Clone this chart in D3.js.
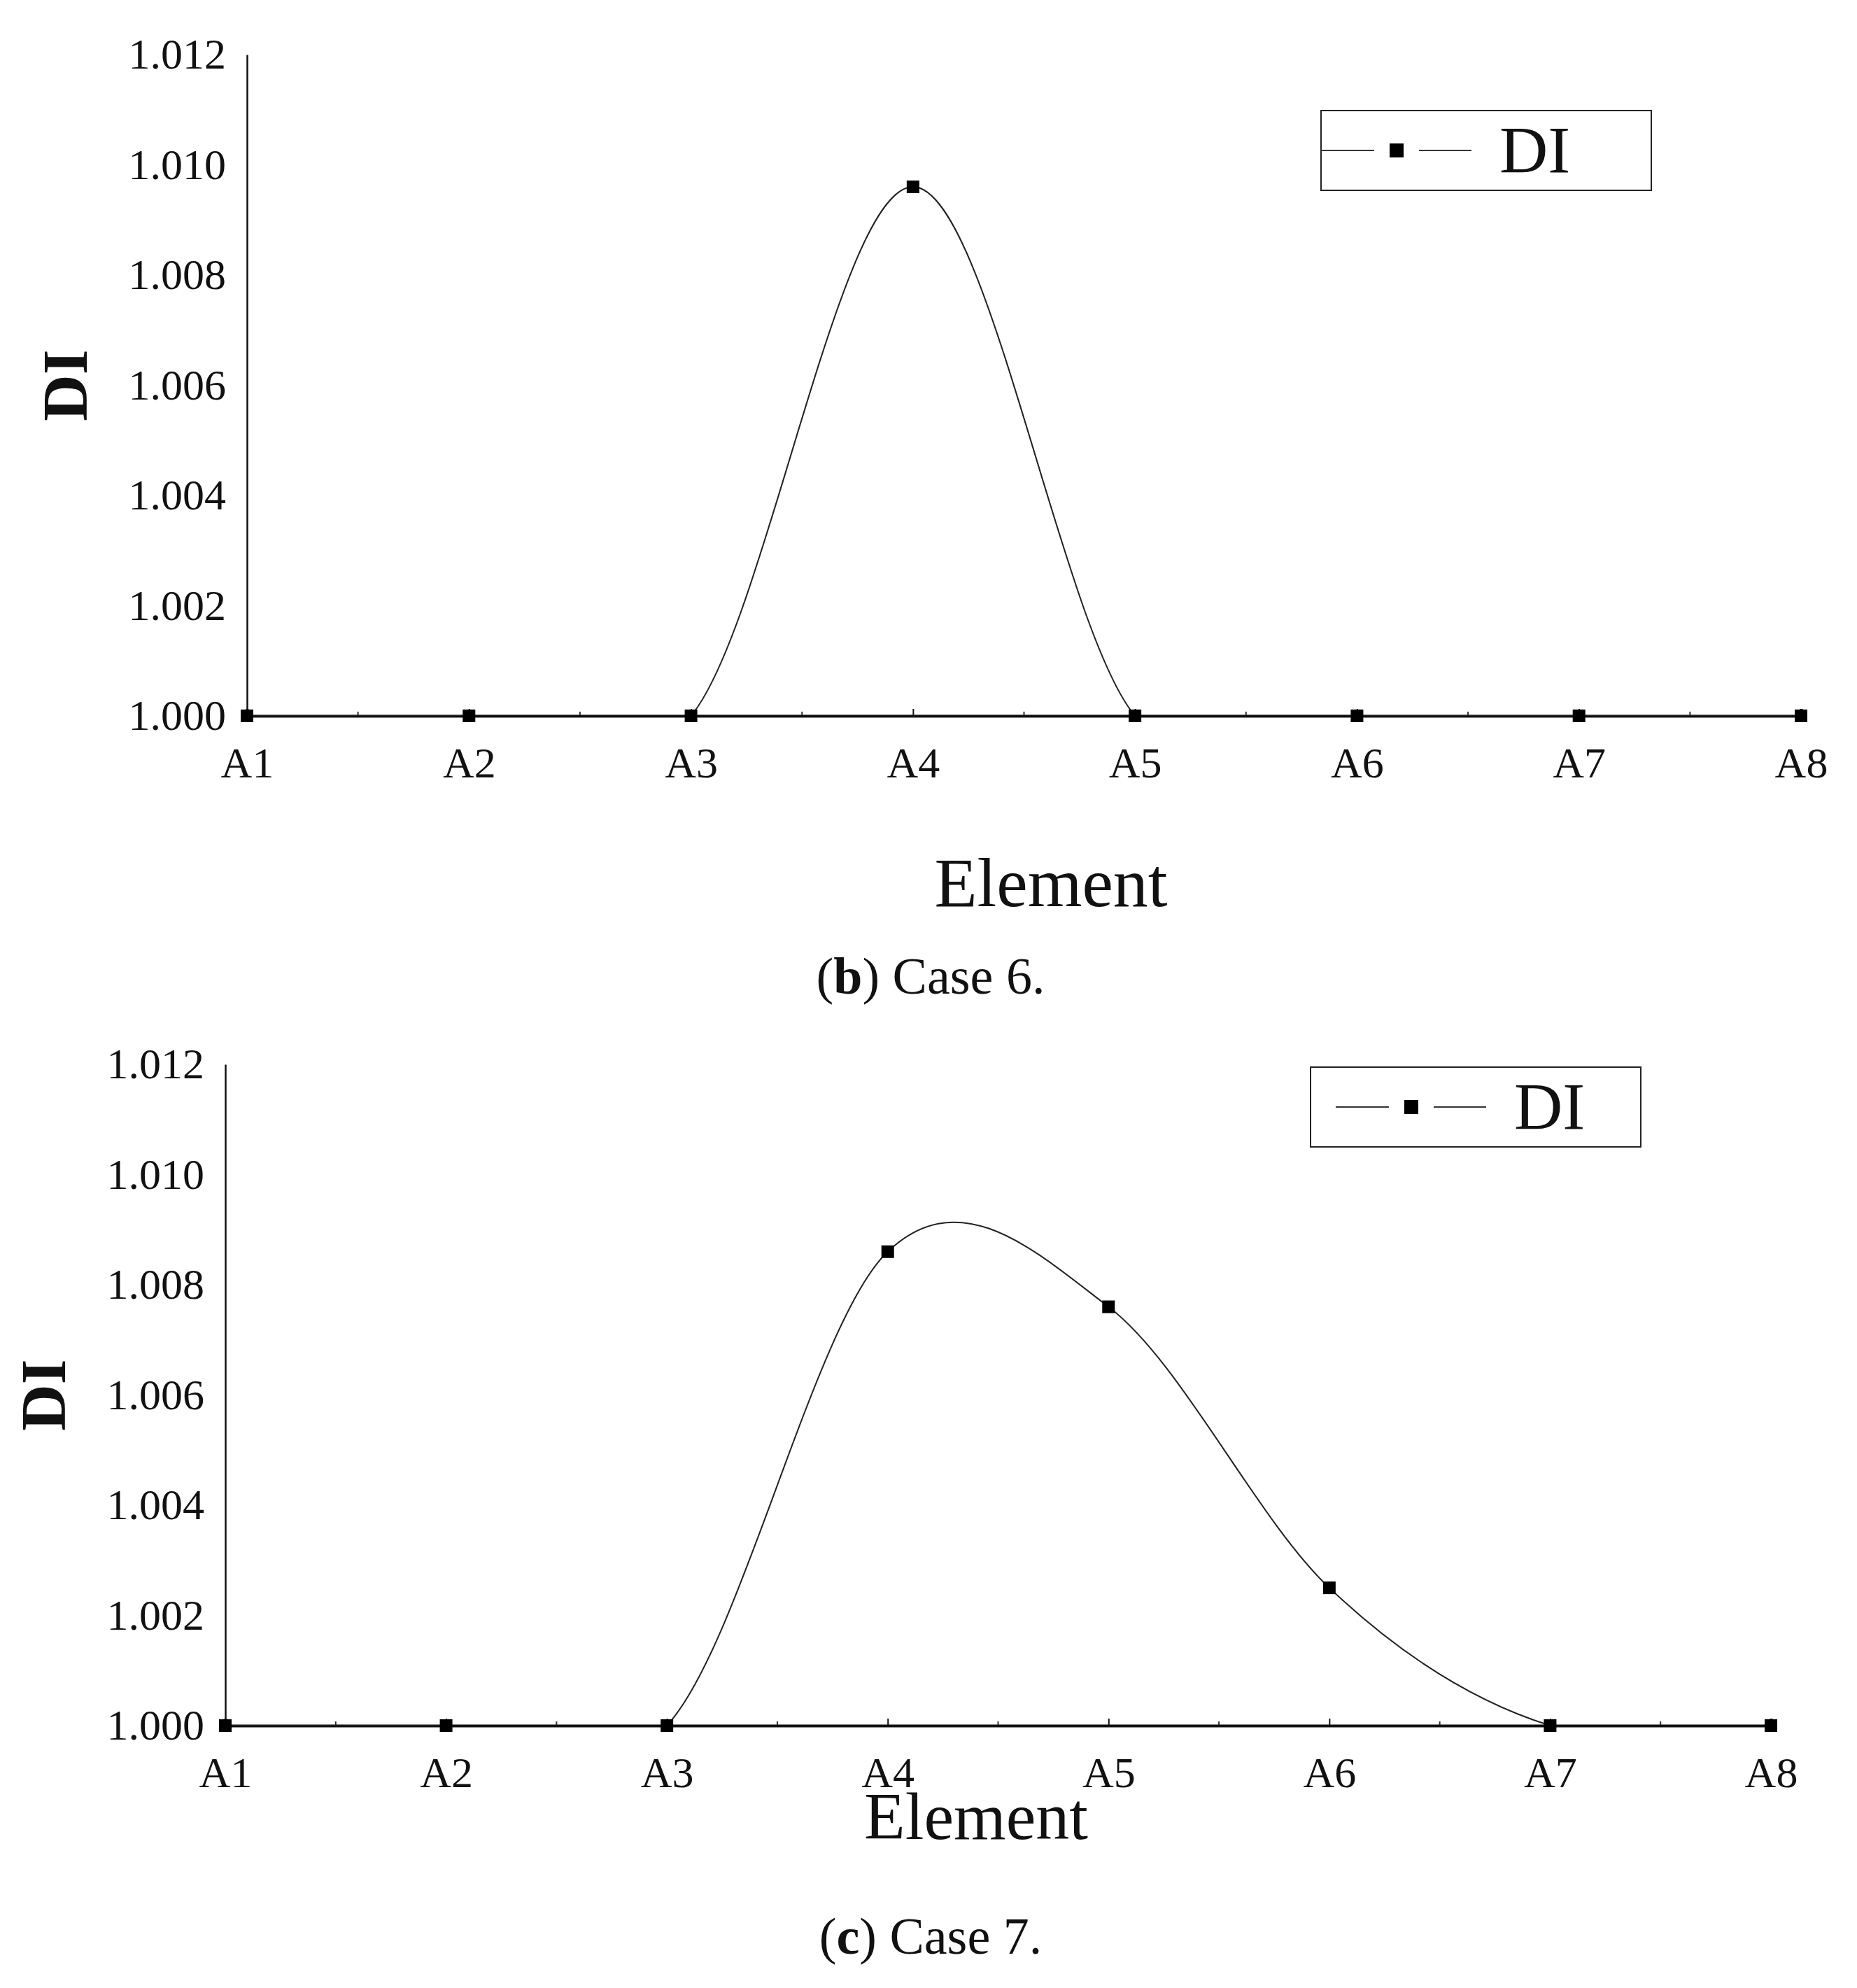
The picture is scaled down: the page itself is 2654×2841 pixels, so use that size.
<!DOCTYPE html>
<html>
<head>
<meta charset="utf-8">
<script src="https://cdn.jsdelivr.net/npm/d3@7"></script>
<style>
  body { margin: 0; background: #fff; }
  text { font-family: "Liberation Serif", "DejaVu Serif", serif; fill: #111; }
</style>
</head>
<body>
<svg id="chart"></svg>
<script>
let elements = ["A1", "A2", "A3", "A4", "A5", "A6", "A7", "A8"];
let case6 = [1.0, 1.0, 1.0, 1.0096, 1.0, 1.0, 1.0, 1.0];
let case7 = [1.0, 1.0, 1.0, 1.0086, 1.0076, 1.0025, 1.0, 1.0];
let yTicks = [1.000, 1.002, 1.004, 1.006, 1.008, 1.010, 1.012];

let w = 2654;
let h = 2841;
let svg = d3.select('#chart').attr('width', w).attr('height', h);
let defs = svg.append('defs');

function makePanel(values, box, caption, letter, id) {
    let g = svg.append('g');

    let xScale = d3.scalePoint().domain(elements).range([box.x0, box.x1]);
    let yScale = d3.scaleLinear().domain([1.0, 1.012]).range([box.y0, box.y1]);

    defs.append('clipPath').attr('id', 'clip' + id).append('rect')
        .attr('x', box.x0).attr('y', box.y1 - 50)
        .attr('width', box.x1 - box.x0).attr('height', box.y0 - box.y1 + 50);

    // minor ticks between categories
    let minor = [];
    for (let i = 0; i < elements.length - 1; i++) {
        minor.push(i + 0.5);
    }
    let step = xScale.step();
    g.selectAll('.minor').data(minor).enter().append('line')
        .attr('x1', d => box.x0 + d * step).attr('x2', d => box.x0 + d * step)
        .attr('y1', box.y0).attr('y2', box.y0 - 6)
        .attr('stroke', '#333').attr('stroke-width', 2);

    let xAxis = d3.axisBottom(xScale).tickSize(-10).tickPadding(44);
    let xg = g.append('g').attr('transform', `translate(0, ${box.y0})`).call(xAxis);
    xg.select('.domain').attr('stroke', '#111').attr('stroke-width', 4);
    xg.selectAll('.tick line').attr('stroke', '#111').attr('stroke-width', 2);
    xg.selectAll('text').attr('font-size', 62).attr('font-family', '"Liberation Serif", serif').attr('fill', '#111');

    let yAxis = d3.axisLeft(yScale).tickValues(yTicks).tickFormat(d3.format('.3f')).tickSize(0).tickPadding(30);
    let yg = g.append('g').attr('transform', `translate(${box.x0}, 0)`).call(yAxis);
    yg.select('.domain').attr('stroke', '#111').attr('stroke-width', 2.5);
    yg.selectAll('text').attr('font-size', 62).attr('font-family', '"Liberation Serif", serif').attr('fill', '#111');

    let data = elements.map((e, i) => ({ e: e, v: values[i] }));
    let line = d3.line()
        .curve(d3.curveCardinal.tension(0))
        .x(d => xScale(d.e))
        .y(d => yScale(d.v));
    g.append('path').datum(data)
        .attr('clip-path', `url(#clip${id})`)
        .attr('d', line).attr('fill', 'none')
        .attr('stroke', '#222').attr('stroke-width', 2);

    g.selectAll('.pt').data(data).enter().append('rect')
        .attr('x', d => xScale(d.e) - 9).attr('y', d => yScale(d.v) - 9)
        .attr('width', 18).attr('height', 18).attr('fill', '#000');

    // legend
    let lg = g.append('g');
    lg.append('rect').attr('x', box.lx).attr('y', box.ly).attr('width', 472).attr('height', 114)
        .attr('fill', '#fff').attr('stroke', '#222').attr('stroke-width', 2);
    let cy = box.ly + 57;
    lg.append('line').attr('x1', box.lx + box.lpad).attr('x2', box.lx + box.lpad + 215)
        .attr('y1', cy).attr('y2', cy).attr('stroke', '#333').attr('stroke-width', 2);
    lg.append('line').attr('x1', box.lx + box.lpad + 76).attr('x2', box.lx + box.lpad + 140)
        .attr('y1', cy).attr('y2', cy).attr('stroke', '#fff').attr('stroke-width', 4);
    lg.append('rect').attr('x', box.lx + box.lpad + 98).attr('y', cy - 10)
        .attr('width', 20).attr('height', 20).attr('fill', '#000');
    lg.append('text').attr('x', box.lx + box.lpad + 255).attr('y', cy + 32)
        .attr('font-size', 96).text('DI');

    // axis titles
    g.append('text').attr('transform', `translate(${box.yl}, ${(box.y0 + box.y1) / 2}) rotate(-90)`)
        .attr('text-anchor', 'middle').attr('dominant-baseline', 'middle')
        .attr('font-size', 92).attr('font-weight', 'bold').text('DI');
    g.append('text').attr('x', box.tx).attr('y', box.ty)
        .attr('text-anchor', 'middle').attr('font-size', box.tf).text('Element');

    let cap = g.append('text').attr('x', 1330).attr('y', box.cy)
        .attr('text-anchor', 'middle').attr('font-size', 74)
        .attr('font-family', '"DejaVu Serif", "Liberation Serif", serif');
    cap.append('tspan').text('(');
    cap.append('tspan').attr('font-weight', 'bold').text(letter);
    cap.append('tspan').text(') ' + caption);
}

makePanel(case6, { x0: 353, x1: 2574, y0: 1023, y1: 78, lx: 1888, ly: 158, lpad: 0,
    yl: 103, tx: 1502, ty: 1295, tf: 100, cy: 1420 }, 'Case 6.', 'b', 6);
makePanel(case7, { x0: 322, x1: 2531, y0: 2466, y1: 1521, lx: 1873, ly: 1525, lpad: 36,
    yl: 72, tx: 1395, ty: 2628, tf: 96, cy: 2792 }, 'Case 7.', 'c', 7);
</script>
</body>
</html>
